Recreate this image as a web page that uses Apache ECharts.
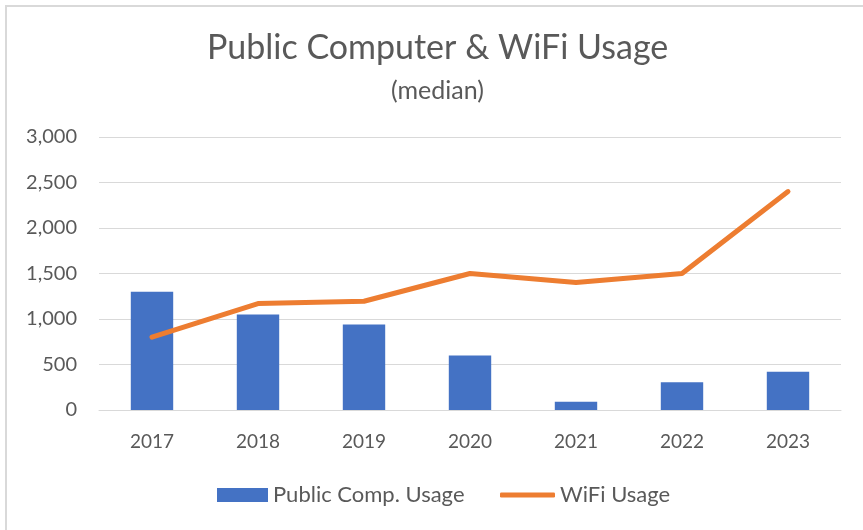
<!DOCTYPE html>
<html>
<head>
<meta charset="utf-8">
<script src="https://cdn.jsdelivr.net/npm/echarts@6/dist/echarts.min.js"></script>
<style>
html,body{margin:0;padding:0;background:#fff;}
#chart{width:863px;height:530px;}
</style>
</head>
<body>
<div id="chart"></div>
<script>
const categories = ['2017','2018','2019','2020','2021','2022','2023'];
const publicCompUsage = [1300, 1050, 940, 600, 90, 305, 420];
const wifiUsage = [800, 1170, 1195, 1500, 1400, 1500, 2400];
const yTicks = [0, 500, 1000, 1500, 2000, 2500, 3000];

const FONT = 'Lato';
const GREY = '#595959';
const chart = echarts.init(document.getElementById('chart'));
chart.setOption({
  animation: false,
  backgroundColor: '#fff',
  graphic: [{
    type: 'rect', left: 5, top: 5, z: -1,
    shape: {width: 900, height: 600},
    style: {fill: '#fff', stroke: '#d9d9d9', lineWidth: 2}
  }],
  title: [{
    text: 'Public Computer & WiFi Usage',
    left: 202, top: 26,
    textStyle: {fontFamily: FONT, fontSize: 34, fontWeight: 'normal', color: GREY}
  }, {
    text: '(median)',
    left: 386, top: 73,
    textStyle: {fontFamily: FONT, fontSize: 25, fontWeight: 'normal', color: GREY}
  }],
  legend: [{
    data: [{name: 'Public Comp. Usage', icon: 'rect'}],
    left: 212, top: 479,
    itemWidth: 51, itemHeight: 14,
    textStyle: {fontFamily: FONT, fontSize: 22, color: GREY}
  }, {
    data: [{name: 'WiFi Usage', icon: 'roundRect'}],
    left: 495, top: 479,
    itemWidth: 55, itemHeight: 5,
    textStyle: {fontFamily: FONT, fontSize: 22, color: GREY}
  }],
  grid: {left: 99, right: 22, top: 137, bottom: 120},
  xAxis: {
    type: 'category',
    data: categories,
    axisLine: {lineStyle: {color: '#d9d9d9', width: 1}},
    axisTick: {show: false},
    axisLabel: {fontFamily: FONT, fontSize: 19, color: GREY, margin: 22}
  },
  yAxis: {
    type: 'value',
    min: yTicks[0], max: yTicks[yTicks.length - 1], interval: 500,
    axisLine: {show: false},
    axisTick: {show: false},
    splitLine: {lineStyle: {color: '#d9d9d9', width: 1}},
    axisLabel: {
      fontFamily: FONT, fontSize: 20, color: GREY, margin: 22,
      formatter: v => v.toLocaleString('en-US')
    }
  },
  series: [{
    name: 'Public Comp. Usage',
    type: 'bar',
    data: publicCompUsage,
    barWidth: '40%',
    itemStyle: {color: '#4472c4'}
  }, {
    name: 'WiFi Usage',
    type: 'line',
    data: wifiUsage,
    symbol: 'none',
    lineStyle: {color: '#ed7d31', width: 5, cap: 'round', join: 'round'},
    itemStyle: {color: '#ed7d31'}
  }]
});
</script>
</body>
</html>
